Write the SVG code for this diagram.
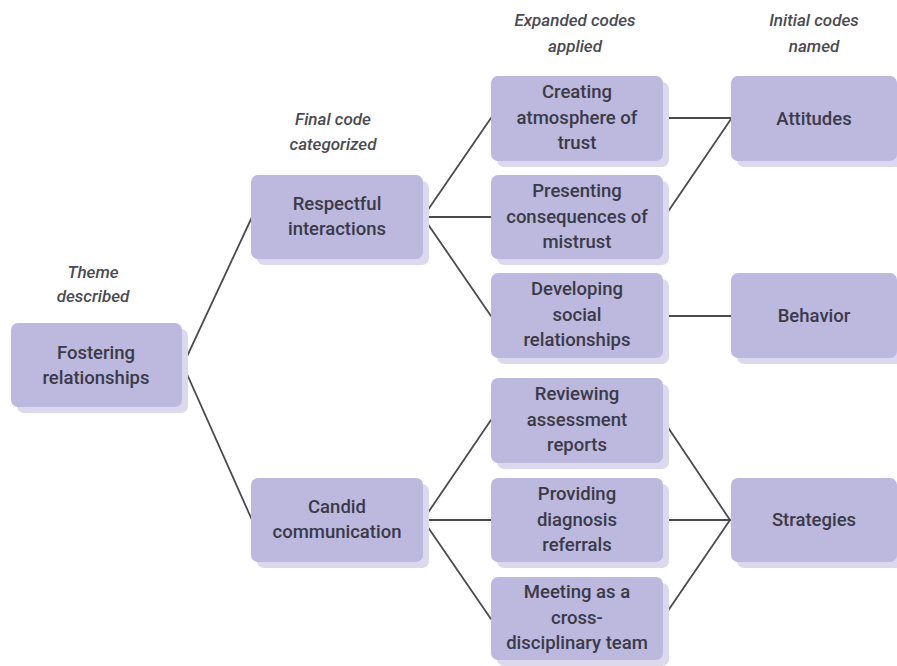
<svg xmlns="http://www.w3.org/2000/svg" width="897" height="666" viewBox="0 0 897 666">
  <style>
    .box { fill: #bcb8de; }
    .shadow { fill: #dcd9ee; }
    .label { font-family: "Roboto", "Liberation Sans", sans-serif; font-size: 18.5px; font-weight: 500; fill: #3b3a48; text-anchor: middle; }
    .head { font-family: "Roboto", "Liberation Sans", sans-serif; font-size: 17px; font-weight: 500; font-style: italic; fill: #4a4a52; text-anchor: middle; }
    .link { stroke: #4b4b4f; stroke-width: 1.8; fill: none; stroke-linecap: round; }
  </style>
  <rect width="897" height="666" fill="#ffffff"/>

  <!-- column headings -->
  <g id="headings">
    <text class="head" x="93" y="278">Theme</text>
    <text class="head" x="93" y="302">described</text>
    <text class="head" x="333" y="125">Final code</text>
    <text class="head" x="333" y="150">categorized</text>
    <text class="head" x="575" y="26">Expanded codes</text>
    <text class="head" x="575" y="52">applied</text>
    <text class="head" x="814" y="26">Initial codes</text>
    <text class="head" x="814" y="52">named</text>
  </g>

  <!-- connectors -->
  <g id="connectors">
    <polyline class="link" points="252,217 183,365 252,520"/>
    <polyline class="link" points="491,118 423,217 491,316"/>
    <line class="link" x1="423" y1="217" x2="491" y2="217"/>
    <polyline class="link" points="491,420 423,520 491,619"/>
    <line class="link" x1="423" y1="520" x2="491" y2="520"/>
    <line class="link" x1="663" y1="118" x2="731" y2="118"/>
    <line class="link" x1="663" y1="219" x2="731" y2="119"/>
    <line class="link" x1="663" y1="316" x2="731" y2="316"/>
    <polyline class="link" points="663,420 730,520 663,618"/>
    <line class="link" x1="663" y1="520" x2="731" y2="520"/>
  </g>

  <!-- theme -->
  <g id="node-fostering">
    <rect class="shadow" x="17" y="329" width="171" height="84" rx="7"/>
    <rect class="box" x="11" y="323" width="171" height="84" rx="7"/>
    <text class="label" x="96" y="359">Fostering</text>
    <text class="label" x="96" y="384">relationships</text>
  </g>

  <!-- final codes -->
  <g id="node-respectful">
    <rect class="shadow" x="257" y="181" width="172" height="84" rx="7"/>
    <rect class="box" x="251" y="175" width="172" height="84" rx="7"/>
    <text class="label" x="337" y="210">Respectful</text>
    <text class="label" x="337" y="235">interactions</text>
  </g>
  <g id="node-candid">
    <rect class="shadow" x="257" y="484" width="172" height="84" rx="7"/>
    <rect class="box" x="251" y="478" width="172" height="84" rx="7"/>
    <text class="label" x="337" y="513">Candid</text>
    <text class="label" x="337" y="538">communication</text>
  </g>

  <!-- expanded codes -->
  <g id="node-creating">
    <rect class="shadow" x="497" y="82" width="172" height="85" rx="7"/>
    <rect class="box" x="491" y="76" width="172" height="85" rx="7"/>
    <text class="label" x="577" y="98">Creating</text>
    <text class="label" x="577" y="124">atmosphere of</text>
    <text class="label" x="577" y="149">trust</text>
  </g>
  <g id="node-presenting">
    <rect class="shadow" x="497" y="181" width="172" height="84" rx="7"/>
    <rect class="box" x="491" y="175" width="172" height="84" rx="7"/>
    <text class="label" x="577" y="197">Presenting</text>
    <text class="label" x="577" y="223">consequences of</text>
    <text class="label" x="577" y="248">mistrust</text>
  </g>
  <g id="node-developing">
    <rect class="shadow" x="497" y="279" width="172" height="85" rx="7"/>
    <rect class="box" x="491" y="273" width="172" height="85" rx="7"/>
    <text class="label" x="577" y="295">Developing</text>
    <text class="label" x="577" y="321">social</text>
    <text class="label" x="577" y="346">relationships</text>
  </g>
  <g id="node-reviewing">
    <rect class="shadow" x="497" y="384" width="172" height="85" rx="7"/>
    <rect class="box" x="491" y="378" width="172" height="85" rx="7"/>
    <text class="label" x="577" y="400">Reviewing</text>
    <text class="label" x="577" y="426">assessment</text>
    <text class="label" x="577" y="451">reports</text>
  </g>
  <g id="node-providing">
    <rect class="shadow" x="497" y="484" width="172" height="84" rx="7"/>
    <rect class="box" x="491" y="478" width="172" height="84" rx="7"/>
    <text class="label" x="577" y="500">Providing</text>
    <text class="label" x="577" y="526">diagnosis</text>
    <text class="label" x="577" y="551">referrals</text>
  </g>
  <g id="node-meeting">
    <rect class="shadow" x="497" y="583" width="172" height="83" rx="7"/>
    <rect class="box" x="491" y="577" width="172" height="83" rx="7"/>
    <text class="label" x="577" y="598">Meeting as a</text>
    <text class="label" x="577" y="624">cross-</text>
    <text class="label" x="577" y="649">disciplinary team</text>
  </g>

  <!-- initial codes -->
  <g id="node-attitudes">
    <rect class="shadow" x="737" y="82" width="166" height="85" rx="7"/>
    <rect class="box" x="731" y="76" width="166" height="85" rx="7"/>
    <text class="label" x="814" y="125">Attitudes</text>
  </g>
  <g id="node-behavior">
    <rect class="shadow" x="737" y="279" width="166" height="85" rx="7"/>
    <rect class="box" x="731" y="273" width="166" height="85" rx="7"/>
    <text class="label" x="814" y="322">Behavior</text>
  </g>
  <g id="node-strategies">
    <rect class="shadow" x="737" y="484" width="166" height="84" rx="7"/>
    <rect class="box" x="731" y="478" width="166" height="84" rx="7"/>
    <text class="label" x="814" y="526">Strategies</text>
  </g>
</svg>
